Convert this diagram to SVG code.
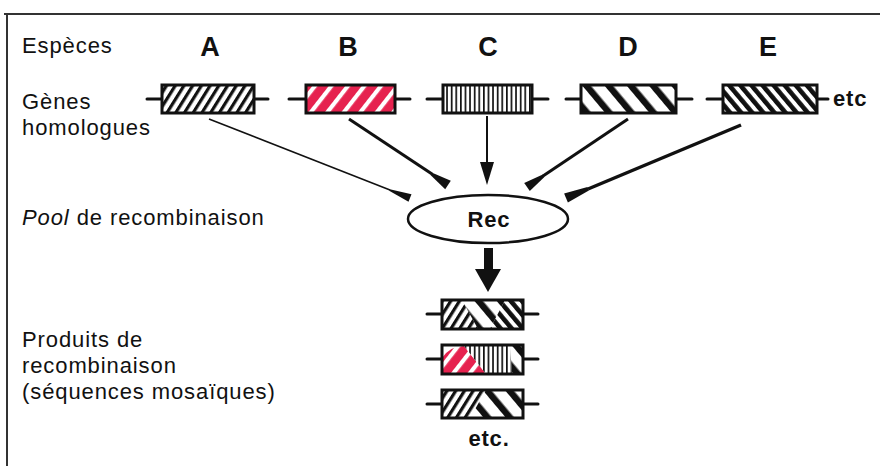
<svg xmlns="http://www.w3.org/2000/svg" width="880" height="466" viewBox="0 0 880 466">
<style>
  .lbl { font-family: "Liberation Sans", Arial, sans-serif; font-size: 22px; letter-spacing: 0.9px; fill: #111; }
  .sp { font-family: "Liberation Sans", Arial, sans-serif; font-size: 27px; font-weight: bold; fill: #111; text-anchor: middle; }
  .bold { font-family: "Liberation Sans", Arial, sans-serif; font-size: 22px; font-weight: bold; letter-spacing: 0.8px; fill: #111; }
  .box { stroke: #111; stroke-width: 3; }
  .tail { stroke: #111; stroke-width: 3; stroke-linecap: round; }
  .frame { stroke: #333; stroke-width: 2; fill: none; }
  .conn { stroke: #111; fill: none; }
  .head { fill: #111; stroke: none; }
</style>
<defs>
  <pattern id="hA" patternUnits="userSpaceOnUse" width="7.4" height="10" patternTransform="rotate(32)">
    <rect width="7.4" height="10" fill="#fff"/><rect width="3.2" height="10" fill="#111"/>
  </pattern>
  <pattern id="hB" patternUnits="userSpaceOnUse" width="13" height="10" patternTransform="rotate(38)">
    <rect width="13" height="10" fill="#e6224f"/><rect width="4.2" height="10" fill="#fff"/>
  </pattern>
  <pattern id="hC" patternUnits="userSpaceOnUse" width="4.6" height="10">
    <rect width="4.6" height="10" fill="#fff"/><rect width="1.7" height="10" fill="#111"/>
  </pattern>
  <pattern id="hD" patternUnits="userSpaceOnUse" width="17" height="10" patternTransform="rotate(-40)">
    <rect width="17" height="10" fill="#fff"/><rect width="6.5" height="10" fill="#111"/>
  </pattern>
  <pattern id="hE" patternUnits="userSpaceOnUse" width="8.5" height="10" patternTransform="rotate(-40)">
    <rect width="8.5" height="10" fill="#fff"/><rect width="4.6" height="10" fill="#111"/>
  </pattern>
</defs>
<rect width="880" height="466" fill="#fff"/>
<g id="frame">
  <line class="frame" x1="4" y1="14" x2="880" y2="14"/>
  <line class="frame" x1="7" y1="14" x2="7" y2="466"/>
</g>
<g id="labels">
  <text class="lbl" x="22" y="53">Espèces</text>
  <text class="lbl" x="22" y="109">Gènes</text>
  <text class="lbl" x="22" y="135">homologues</text>
  <text class="lbl" x="22" y="225"><tspan font-style="italic">Pool</tspan> de recombinaison</text>
  <text class="lbl" x="22" y="347">Produits de</text>
  <text class="lbl" x="22" y="373">recombinaison</text>
  <text class="lbl" x="22" y="399">(séquences mosaïques)</text>
</g>
<g id="species">
  <text class="sp" x="210" y="56">A</text>
  <text class="sp" x="348" y="56">B</text>
  <text class="sp" x="488" y="56">C</text>
  <text class="sp" x="628" y="56">D</text>
  <text class="sp" x="768" y="56">E</text>
</g>
<g id="geneA">
  <line class="tail" x1="147" y1="99" x2="162" y2="99"/><line class="tail" x1="254" y1="99" x2="268" y2="99"/>
  <rect class="box" x="162" y="85" width="92" height="28" fill="url(#hA)"/>
</g>
<g id="geneB">
  <line class="tail" x1="289" y1="99" x2="306" y2="99"/><line class="tail" x1="395" y1="99" x2="410" y2="99"/>
  <rect class="box" x="306" y="85" width="89" height="28" fill="url(#hB)"/>
</g>
<g id="geneC">
  <line class="tail" x1="427" y1="99" x2="443" y2="99"/><line class="tail" x1="532" y1="99" x2="548" y2="99"/>
  <rect class="box" x="443" y="85" width="89" height="28" fill="url(#hC)"/>
</g>
<g id="geneD">
  <line class="tail" x1="566" y1="99" x2="581" y2="99"/><line class="tail" x1="676" y1="99" x2="692" y2="99"/>
  <rect class="box" x="581" y="85" width="95" height="28" fill="url(#hD)"/>
</g>
<g id="geneE">
  <line class="tail" x1="707" y1="99" x2="723" y2="99"/><line class="tail" x1="817" y1="99" x2="828" y2="99"/>
  <rect class="box" x="723" y="85" width="94" height="28" fill="url(#hE)"/>
  <text class="bold" x="833" y="106">etc</text>
</g>
<g id="rec">
  <ellipse cx="488" cy="219" rx="80" ry="24" fill="#fff" stroke="#111" stroke-width="2.5"/>
  <text class="bold" x="489" y="227" text-anchor="middle">Rec</text>
</g>
<g id="connectors">
  <line class="conn" x1="209" y1="119" x2="390" y2="190" stroke-width="1.6"/>
  <path class="head" d="M389.2,190.7 L408.5,201.7 L411.5,194.3 L389.8,189.3 Z"/>
  <line class="conn" x1="349" y1="119" x2="432" y2="174" stroke-width="3"/>
  <path class="head" d="M430.5,175.1 L445.2,189.2 L450.8,180.8 L432.2,172.7 Z"/>
  <line class="conn" x1="487" y1="116" x2="487" y2="164" stroke-width="2"/>
  <path class="head" d="M480,162 L494,162 L487,185 Z"/>
  <line class="conn" x1="628" y1="119" x2="543" y2="176" stroke-width="3"/>
  <path class="head" d="M542.8,174.6 L524.2,182.9 L529.8,191.1 L544.4,177 Z"/>
  <line class="conn" x1="741" y1="125" x2="588" y2="189" stroke-width="3.5"/>
  <path class="head" d="M587.5,187.1 L564.1,193.4 L567.9,202.6 L588.9,190.5 Z"/>
  <rect x="484" y="248" width="9" height="23" fill="#111"/>
  <path class="head" d="M475,269 L501,269 L488,292 Z"/>
</g>
<g id="product1">
  <line class="tail" x1="427" y1="314" x2="442" y2="314"/><line class="tail" x1="523" y1="314" x2="538" y2="314"/>
  <polygon points="442,300 462,300 478,329 442,329" fill="url(#hA)"/>
  <polygon points="462,300 505,300 490,329 478,329" fill="url(#hD)"/>
  <polygon points="505,300 523,300 523,329 490,329" fill="url(#hE)"/>
  <rect class="box" x="442" y="300" width="81" height="29" fill="none"/>
</g>
<g id="product2">
  <line class="tail" x1="427" y1="359" x2="442" y2="359"/><line class="tail" x1="523" y1="359" x2="538" y2="359"/>
  <rect x="442" y="345" width="81" height="29" fill="#fff"/>
  <path d="M442,374 L442,358 Q450,346 464,346 L486,374 Z" fill="url(#hB)"/>
  <polygon points="464,345 510,345 512,374 486,374 464,346" fill="url(#hC)"/>
  <polygon points="510,345 523,345 523,374 512,374" fill="url(#hD)"/>
  <rect class="box" x="442" y="345" width="81" height="29" fill="none"/>
</g>
<g id="product3">
  <line class="tail" x1="427" y1="404" x2="442" y2="404"/><line class="tail" x1="523" y1="404" x2="538" y2="404"/>
  <polygon points="442,390 486,390 470,418 442,418" fill="url(#hA)"/>
  <polygon points="486,390 523,390 523,418 470,418" fill="url(#hD)"/>
  <rect class="box" x="442" y="390" width="81" height="28" fill="none"/>
</g>
<g id="etc">
  <text class="bold" x="489" y="446" text-anchor="middle">etc.</text>
</g>
</svg>
